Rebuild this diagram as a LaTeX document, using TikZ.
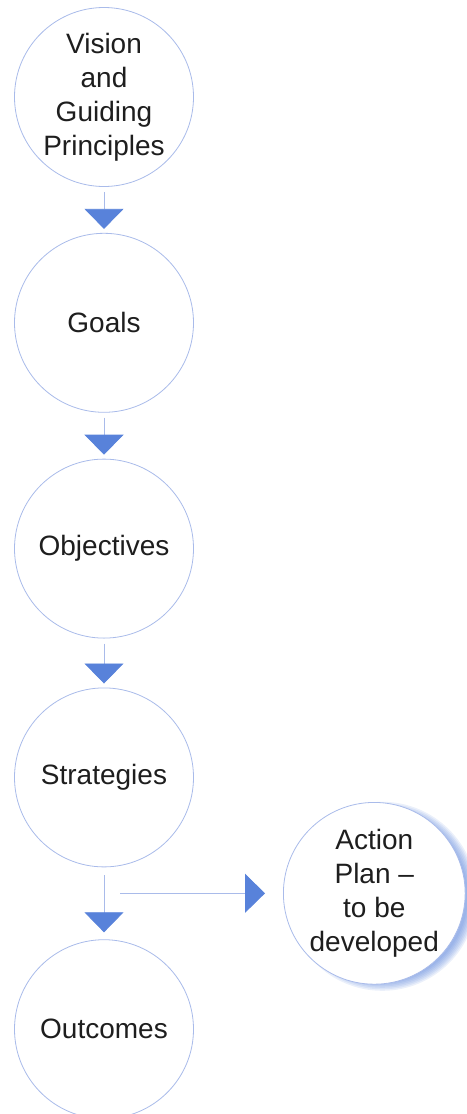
\documentclass[tikz,border=0pt]{standalone}
\usepackage{fontspec}
\setmainfont{Liberation Sans}
\usetikzlibrary{arrows.meta,positioning,backgrounds}

\definecolor{ringblue}{HTML}{A9BBEA}
\definecolor{tipblue}{HTML}{5882DA}
\definecolor{inkgray}{HTML}{1E1E1E}

\begin{document}
\begin{tikzpicture}[-{Triangle[width=39pt,length=20pt,color=tipblue]},
                    line width=0.8pt,node distance=46pt,
                    shorten <=5pt,shorten >=4pt]
  \tikzstyle{stage}=[circle,draw=ringblue,fill=white,minimum size=179pt,
                     inner sep=0pt,align=center,text=inkgray,
                     font=\fontsize{28}{34}\selectfont]
  \tikzstyle{every edge}=[draw=ringblue]
  \useasboundingbox (0,0) rectangle (466pt,-1114pt);

  \node[stage] (vision) at (104pt,-97pt)         {Vision\\and\\Guiding\\Principles};
  \node[stage] (goals)      [below=of vision]     {Goals};
  \node[stage] (objectives) [below=of goals]      {Objectives};
  \node[stage] (strategies) [below=49pt of objectives] {Strategies};
  \node[stage] (outcomes)   [below=72pt of strategies] {Outcomes};
  \coordinate[below=26pt of strategies] (split);
  \node[stage] (plan)       [right=179pt of split] {Action\\Plan --\\to be\\developed};
  \path (vision)     edge (goals)
        (goals)      edge (objectives)
        (objectives) edge (strategies)
        (strategies) edge [shorten <=8pt,shorten >=7pt] (outcomes)
        (split)      edge [shorten <=16pt,shorten >=18pt] (plan);

  % soft blue glow to the right of the action plan
  \begin{scope}[on background layer]
    \foreach \r in {-4,-2.5,...,6}
      \fill[tipblue,opacity=0.12] ([xshift=8pt,yshift=-3pt]plan.center)
        circle [radius={89.5pt+\r pt}];
  \end{scope}
\end{tikzpicture}
\end{document}
